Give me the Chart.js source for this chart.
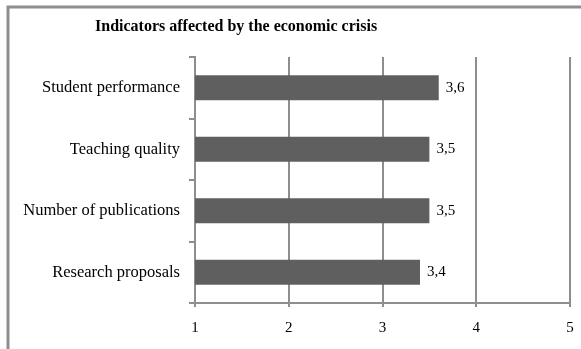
<!DOCTYPE html>
<html>
<head>
<meta charset="utf-8">
<style>
  html, body { margin: 0; padding: 0; background: #ffffff; }
  #wrap { width: 581px; height: 349px; position: relative; }
</style>
<script src="https://cdn.jsdelivr.net/npm/chart.js@4/dist/chart.umd.min.js"></script>
</head>
<body>
<div id="wrap"><canvas id="chart" width="581" height="349"></canvas></div>
<script>
// Survey means (scale 1–5) per indicator
const chartTitle = 'Indicators affected by the economic crisis';
const categories = ['Student performance', 'Teaching quality', 'Number of publications', 'Research proposals'];
const scores = [3.6, 3.5, 3.5, 3.4];
const xTicks = [1, 2, 3, 4, 5];

const GRID = '#8e8e8e';
const BAR = '#5f5f5f';
const SERIF = '"Liberation Serif", "Times New Roman", serif';

// Frame lines and heading
const framePlugin = {
  id: 'frame',
  beforeDraw(chart) {
    const ctx = chart.ctx;
    ctx.save();
    ctx.strokeStyle = GRID;
    ctx.lineWidth = 3;
    ctx.beginPath();
    ctx.moveTo(8, 349);
    ctx.lineTo(8, 7);
    ctx.lineTo(581, 7);
    ctx.stroke();
    ctx.fillStyle = '#000';
    ctx.font = 'bold 16px ' + SERIF;
    ctx.textAlign = 'left';
    ctx.textBaseline = 'alphabetic';
    ctx.fillText(chartTitle, 95, 31);
    ctx.restore();
  }
};

// Value labels to the right of each bar, decimal comma
const valueLabels = {
  id: 'valueLabels',
  afterDatasetsDraw(chart) {
    const ctx = chart.ctx;
    const meta = chart.getDatasetMeta(0);
    ctx.save();
    ctx.fillStyle = '#000';
    ctx.font = '15px ' + SERIF;
    ctx.textAlign = 'left';
    ctx.textBaseline = 'middle';
    meta.data.forEach((bar, i) => {
      const txt = scores[i].toFixed(1).replace('.', ',');
      ctx.fillText(txt, bar.x + 7, bar.y);
    });
    ctx.restore();
  }
};

new Chart(document.getElementById('chart'), {
  type: 'bar',
  data: {
    labels: categories,
    datasets: [{
      data: scores,
      backgroundColor: BAR,
      borderWidth: 0,
      categoryPercentage: 1,
      barPercentage: 0.41
    }]
  },
  options: {
    indexAxis: 'y',
    responsive: false,
    animation: false,
    layout: { padding: { left: 0, right: 11, top: 57, bottom: 0 } },
    plugins: {
      legend: { display: false },
      tooltip: { enabled: false },
      title: { display: false }
    },
    scales: {
      x: {
        type: 'linear',
        min: xTicks[0],
        max: xTicks[xTicks.length - 1],
        afterBuildTicks(scale) { scale.ticks = xTicks.map(v => ({ value: v })); },
        afterFit(scale) {
          scale.height = 46;
          scale.paddingLeft = 0;
          scale.paddingRight = 0;
        },
        grid: { color: GRID, lineWidth: 2, tickLength: 4, drawOnChartArea: true },
        border: { color: GRID, width: 2 },
        ticks: {
          color: '#000',
          font: { family: SERIF, size: 15 },
          padding: 12,
          maxRotation: 0
        }
      },
      y: {
        afterFit(scale) { scale.width = 195; },
        grid: { color: GRID, lineWidth: 2, tickLength: 6, drawOnChartArea: false, offset: true },
        border: { color: GRID, width: 2 },
        ticks: {
          color: '#000',
          font: { family: SERIF, size: 16.5 },
          padding: 9
        }
      }
    }
  },
  plugins: [framePlugin, valueLabels]
});
</script>
</body>
</html>
